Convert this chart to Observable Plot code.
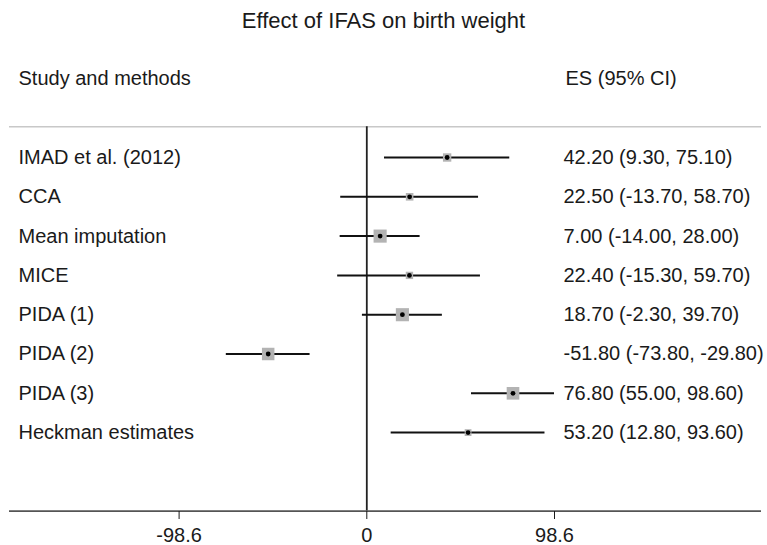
<!DOCTYPE html>
<html>
<head>
<meta charset="utf-8">
<script src="https://cdn.jsdelivr.net/npm/d3@7"></script>
<script src="https://cdn.jsdelivr.net/npm/@observablehq/plot@0.6"></script>
<style>
  html, body { margin: 0; padding: 0; background: #fff; }
  #title { width: 767px; height: 40px; line-height: 42px; text-align: center;
           font-family: "Liberation Sans", Arial, sans-serif; font-size: 22px; color: #1a1a1a; }
</style>
</head>
<body>
<div id="title">Effect of IFAS on birth weight</div>
<div id="chart"></div>
<script>
const studies = ["IMAD et al. (2012)", "CCA", "Mean imputation", "MICE", "PIDA (1)", "PIDA (2)", "PIDA (3)", "Heckman estimates"];
const es      = [42.2, 22.5, 7.0, 22.4, 18.7, -51.8, 76.8, 53.2];
const lower   = [9.3, -13.7, -14.0, -15.3, -2.3, -73.8, 55.0, 12.8];
const upper   = [75.1, 58.7, 28.0, 59.7, 39.7, -29.8, 98.6, 93.6];
const weights = [7.9, 6.5, 19.4, 6.1, 19.4, 17.6, 18.0, 5.2];
const tickValues = [-98.6, 0, 98.6];
const tickLabels = ["-98.6", "0", "98.6"];
const headers = ["Study and methods", "ES (95% CI)"];

const rows = studies.map((s, i) => ({
  i, study: s, es: es[i], lo: lower[i], hi: upper[i], w: weights[i],
  ci: `${es[i].toFixed(2)} (${lower[i].toFixed(2)}, ${upper[i].toFixed(2)})`
}));

const HEADER_ROW = -2, HEADER_RULE = -0.78, AXIS_ROW = 9;

const chart = Plot.plot({
  width: 767, height: 505,
  marginLeft: 9, marginRight: 6, marginTop: 0, marginBottom: 34,
  x: {domain: [-98.6, 98.6], range: [178.6, 554]},
  y: {domain: [-2, 9], range: [38.4, 470.7], axis: null},
  r: {type: "sqrt", domain: [0, 19.4], range: [0, 7.4]},
  style: {fontFamily: "'Liberation Sans', Arial, sans-serif", fontSize: "20px", color: "#1a1a1a", background: "#fff"},
  marks: [
    Plot.ruleY([HEADER_RULE], {stroke: "#c8c8c8", strokeWidth: 1.5}),
    Plot.ruleX([0], {y1: HEADER_RULE, y2: AXIS_ROW, stroke: "#222", strokeWidth: 1.8}),
    Plot.ruleY([AXIS_ROW], {stroke: "#555", strokeWidth: 1.8}),
    Plot.axisX({ticks: tickValues, tickFormat: d => tickLabels[tickValues.indexOf(d)],
                tickSize: 8, tickPadding: 8, label: null, fontSize: 20}),
    Plot.ruleY(rows, {x1: "lo", x2: "hi", y: "i", stroke: "#111", strokeWidth: 2}),
    Plot.dot(rows, {x: "es", y: "i", r: "w", symbol: "square", fill: "#b3b3b3"}),
    Plot.dot(rows, {x: "es", y: "i", r: 2.4, fill: "#000"}),
    Plot.text(rows, {y: "i", text: "study", frameAnchor: "left", dx: 9, textAnchor: "start"}),
    Plot.text(rows, {y: "i", text: "ci", frameAnchor: "left", dx: 554, textAnchor: "start"}),
    Plot.text([headers[0]], {y: HEADER_ROW, text: d => d, frameAnchor: "left", dx: 9, textAnchor: "start"}),
    Plot.text([headers[1]], {y: HEADER_ROW, text: d => d, frameAnchor: "left", dx: 556, textAnchor: "start"})
  ]
});
document.getElementById("chart").appendChild(chart);
</script>
</body>
</html>
